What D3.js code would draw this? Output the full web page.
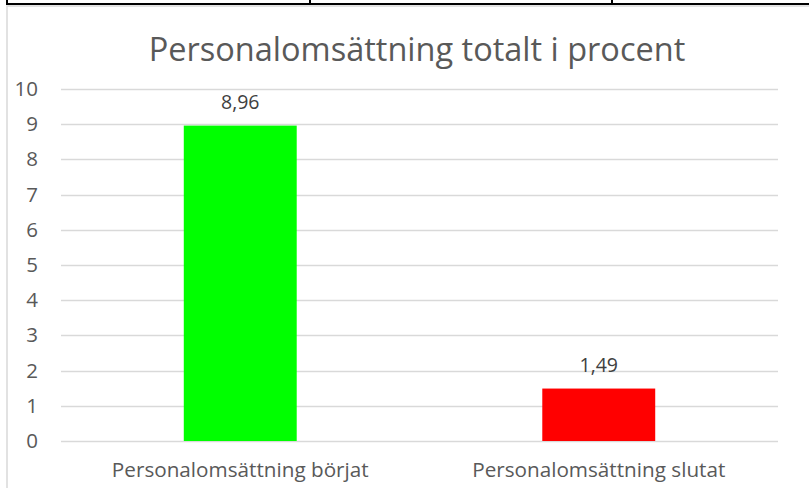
<!DOCTYPE html>
<html>
<head>
<meta charset="utf-8">
<script src="https://cdn.jsdelivr.net/npm/d3@7"></script>
<style>
    html, body { margin: 0; padding: 0; background: #fff; }
    svg { display: block; font-family: "Open Sans", sans-serif; }
</style>
</head>
<body>
<svg id="chart" width="809" height="488"></svg>
<script>
    var categories = ['Personalomsättning börjat', 'Personalomsättning slutat'];
    var values = [8.96, 1.49];
    var labels = ['8,96', '1,49'];
    var barColors = ['#00ff00', '#ff0000'];
    var yTicks = [0, 1, 2, 3, 4, 5, 6, 7, 8, 9, 10];
    var tableCols = [7, 310, 612];

    var svg = d3.select('#chart'),
        width = 809,
        height = 488,
        margin = {top: 89, right: 31, bottom: 47, left: 61};

    // table lines above the chart
    svg.append('line')
        .attr('x1', 6).attr('x2', width)
        .attr('y1', 4).attr('y2', 4)
        .attr('stroke', '#000').attr('stroke-width', 2);
    svg.selectAll('.tcol')
        .data(tableCols)
        .enter().append('line')
        .attr('class', 'tcol')
        .attr('x1', function (d) { return d; })
        .attr('x2', function (d) { return d; })
        .attr('y1', 0).attr('y2', 5)
        .attr('stroke', '#000').attr('stroke-width', 2);

    // chart border
    svg.append('rect')
        .attr('x', 7).attr('y', 6)
        .attr('width', width).attr('height', height)
        .attr('fill', 'none')
        .attr('stroke', '#d9d9d9').attr('stroke-width', 1.5);

    var x = d3.scaleBand()
        .domain(categories)
        .range([margin.left, width - margin.right])
        .paddingInner(0.685)
        .paddingOuter(0.3425);

    var y = d3.scaleLinear()
        .domain([0, 10])
        .range([height - margin.bottom, margin.top]);

    // gridlines
    svg.append('g')
        .selectAll('line')
        .data(yTicks)
        .enter().append('line')
        .attr('x1', margin.left)
        .attr('x2', width - margin.right)
        .attr('y1', function (d) { return Math.round(y(d)) + 0.5; })
        .attr('y2', function (d) { return Math.round(y(d)) + 0.5; })
        .attr('stroke', '#d9d9d9')
        .attr('stroke-width', 1.5);

    // y axis labels
    var yAxis = d3.axisLeft(y).tickValues(yTicks).tickSize(0).tickPadding(0);
    var yg = svg.append('g')
        .attr('transform', 'translate(38,0)')
        .call(yAxis);
    yg.select('.domain').remove();
    yg.selectAll('text')
        .attr('fill', '#595959')
        .style('font-size', '20.5px')
        .style('font-family', '"Open Sans", sans-serif');

    // bars
    svg.selectAll('.bar')
        .data(values)
        .enter().append('rect')
        .attr('class', 'bar')
        .attr('x', function (d, i) { return x(categories[i]); })
        .attr('y', function (d) { return y(d); })
        .attr('width', x.bandwidth())
        .attr('height', function (d) { return y(0) - y(d); })
        .attr('fill', function (d, i) { return barColors[i]; });

    // data labels
    svg.selectAll('.lbl')
        .data(values)
        .enter().append('text')
        .attr('class', 'lbl')
        .attr('x', function (d, i) { return x(categories[i]) + x.bandwidth() / 2; })
        .attr('y', function (d) { return y(d) - 17; })
        .attr('text-anchor', 'middle')
        .attr('fill', '#404040')
        .style('font-size', '19.5px')
        .text(function (d, i) { return labels[i]; });

    // x axis labels
    var xAxis = d3.axisBottom(x).tickSize(0).tickPadding(0);
    var xg = svg.append('g')
        .attr('transform', 'translate(0,' + (height - 11) + ')')
        .call(xAxis);
    xg.select('.domain').remove();
    xg.selectAll('text')
        .attr('dy', 0)
        .attr('fill', '#595959')
        .style('font-size', '20.7px')
        .style('font-family', '"Open Sans", sans-serif');

    // title
    svg.append('text')
        .attr('x', 417)
        .attr('y', 61)
        .attr('text-anchor', 'middle')
        .attr('fill', '#595959')
        .style('font-size', '32.5px')
        .text('Personalomsättning totalt i procent');
</script>
</body>
</html>
